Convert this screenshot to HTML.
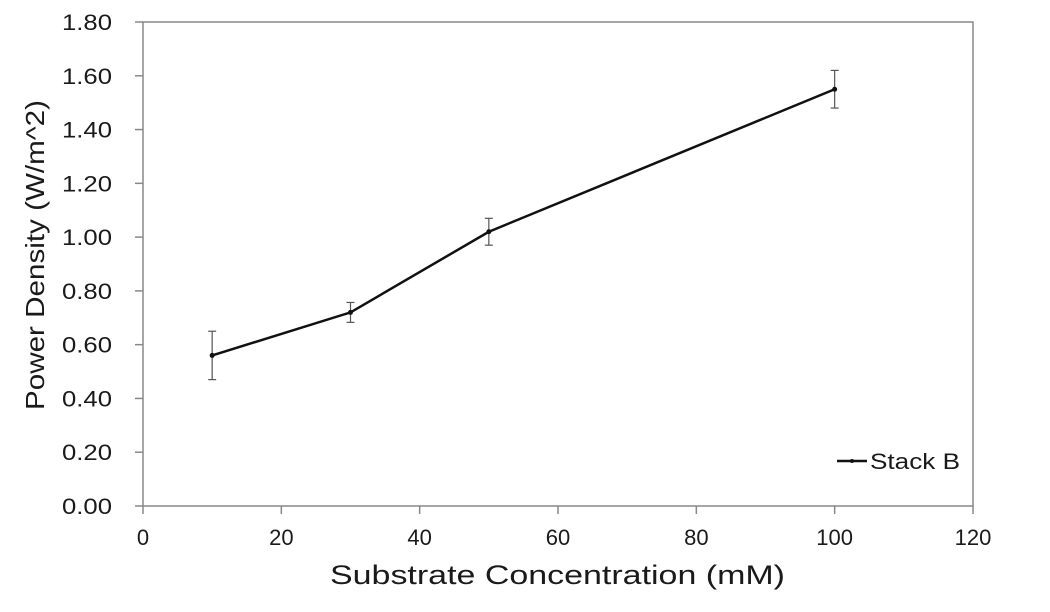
<!DOCTYPE html>
<html><head><meta charset="utf-8"><style>
body{margin:0;background:#fff;}
text{font-family:"Liberation Sans","DejaVu Sans",sans-serif;fill:#1a1a1a;}
</style></head><body>
<svg id="chart" width="1050" height="607" xmlns="http://www.w3.org/2000/svg">
<g id="axes"></g><g id="series"></g>
<text x="330" y="584" font-size="27" textLength="455" lengthAdjust="spacingAndGlyphs">Substrate Concentration (mM)</text>
<text transform="translate(44,410) rotate(-90)" font-size="26" textLength="310" lengthAdjust="spacingAndGlyphs">Power Density (W/m^2)</text>
<g>
<line x1="837" y1="461" x2="867" y2="461" stroke="#111" stroke-width="2.5"/>
<circle cx="852" cy="461" r="2" fill="#111"/>
<text x="870" y="469" font-size="22" textLength="90" lengthAdjust="spacingAndGlyphs">Stack B</text>
</g>
</svg>
<script>
const xs=[10,30,50,100];
const ys=[0.56,0.72,1.02,1.55];
const errs=[0.09,0.037,0.05,0.07];
const xTicks=[0,20,40,60,80,100,120];
const yTicks=[0,0.2,0.4,0.6,0.8,1.0,1.2,1.4,1.6,1.8];
const L=143,R=973,T=22,B=506;
const X=v=>L+(v-0)/120*(R-L), Y=v=>B-v/1.8*(B-T);
const NS="http://www.w3.org/2000/svg";
function mk(p,tag,at){const e=document.createElementNS(NS,tag);for(const k in at)e.setAttribute(k,at[k]);p.appendChild(e);return e;}
const ax=document.getElementById('axes');
let fr=mk(ax,'rect',{x:L,y:T,width:R-L,height:B-T,fill:'none',stroke:'#888','stroke-width':1.5});


yTicks.forEach(v=>{
 mk(ax,'line',{x1:L-8,x2:L,y1:Y(v),y2:Y(v),stroke:'#888','stroke-width':1.5});
 const t=mk(ax,'text',{x:L-31,y:Y(v)+8,'font-size':22,'text-anchor':'end',textLength:50,lengthAdjust:'spacingAndGlyphs'});
 t.textContent=v.toFixed(2);
 
 
});
xTicks.forEach(v=>{
 mk(ax,'line',{x1:X(v),x2:X(v),y1:B,y2:B+8,stroke:'#888','stroke-width':1.5});
 const t=mk(ax,'text',{x:X(v),y:B+39,'font-size':22,'text-anchor':'middle'});
 t.textContent=v;
 
 
});
const s=document.getElementById('series');
const pl=mk(s,'polyline',{points:xs.map((x,i)=>X(x)+','+Y(ys[i])).join(' '),fill:'none',stroke:'#111','stroke-width':2.5});


xs.forEach((x,i)=>{
 const g=mk(s,'g',{});
 
 
 const cx=X(x),y1=Y(ys[i]+errs[i]),y2=Y(ys[i]-errs[i]);
 mk(g,'line',{x1:cx,x2:cx,y1:y1,y2:y2,stroke:'#555','stroke-width':1.2});
 mk(g,'line',{x1:cx-4,x2:cx+4,y1:y1,y2:y1,stroke:'#555','stroke-width':1.2});
 mk(g,'line',{x1:cx-4,x2:cx+4,y1:y2,y2:y2,stroke:'#555','stroke-width':1.2});
 const c=mk(s,'circle',{cx:cx,cy:Y(ys[i]),r:2.5,fill:'#111'});
 
 
});
</script>
</body></html>
